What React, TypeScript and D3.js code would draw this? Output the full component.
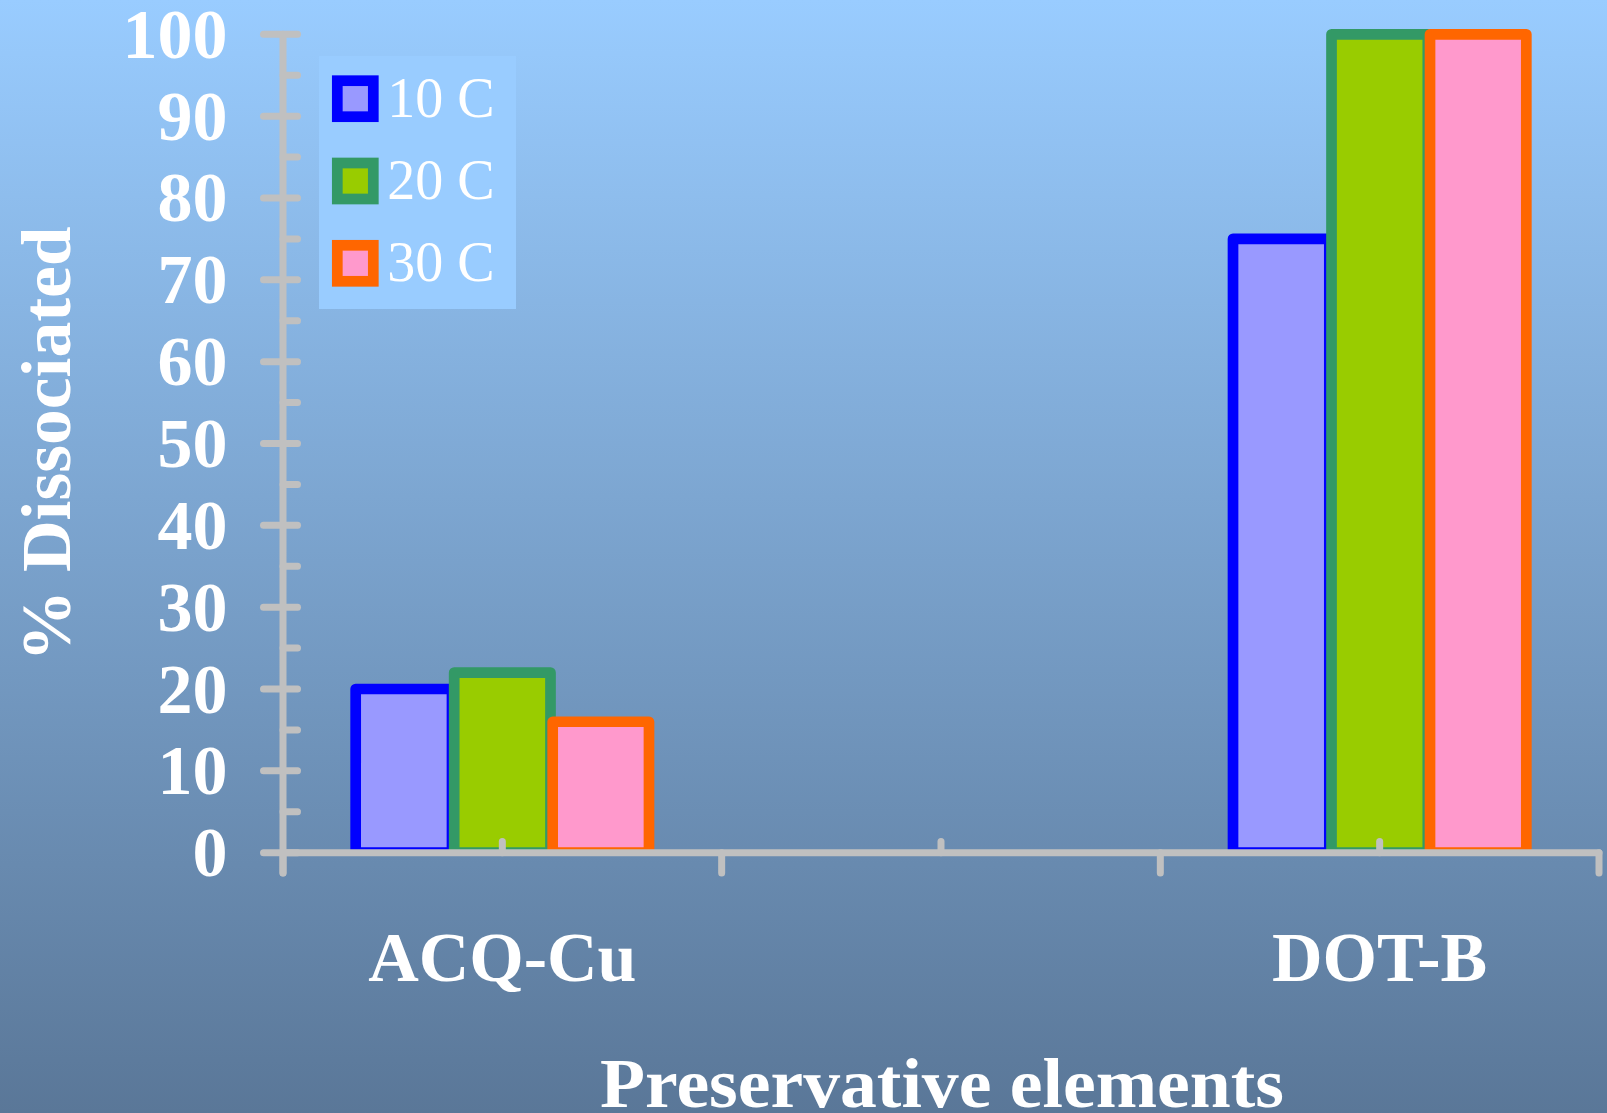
import React from "react";
import * as d3 from "d3";

const categories = ["ACQ-Cu", "", "DOT-B"];
const seriesNames = ["10 C", "20 C", "30 C"];
const values10 = [20, null, 75];
const values20 = [22, null, 100];
const values30 = [16, null, 100];
const yTicks = [0, 10, 20, 30, 40, 50, 60, 70, 80, 90, 100];
const yMinorTicks = [5, 15, 25, 35, 45, 55, 65, 75, 85, 95];
const fills = ["#9999ff", "#99cc00", "#ff99cc"];
const strokes = ["#0000ff", "#339966", "#ff6600"];

const W = 1607;
const H = 1113;
const FONT = "'Liberation Serif', 'Times New Roman', serif";

export default function App() {
  const series = [values10, values20, values30];
  const x0 = d3.scaleBand<string>().domain(categories.map((c, i) => String(i))).range([283, 1599]).paddingInner(0).paddingOuter(0);
  const y = d3.scaleLinear().domain([0, 100]).range([852.7, 34.3]);
  const groupWidth = 295.5;
  const x1 = d3.scaleBand<string>().domain(seriesNames).range([0, groupWidth]).padding(0);
  const barW = 96.3;
  const sw = 10.7;
  const axisColor = "#c0c0c0";
  const axisW = 7;

  return (
    <svg width={W} height={H} style={{ position: "absolute", left: 0, top: 0 }} xmlns="http://www.w3.org/2000/svg">
      <defs>
        <linearGradient id="bg" x1="0" y1="0" x2="0" y2="1">
          <stop offset="0" stopColor="#99ccff" />
          <stop offset="1" stopColor="#5a7798" />
        </linearGradient>
        <clipPath id="plotClip">
          <rect x={0} y={0} width={W} height={y(0)} />
        </clipPath>
      </defs>
      <rect x={0} y={0} width={W} height={H} fill="url(#bg)" />

      {/* bars */}
      <g clipPath="url(#plotClip)">
        {categories.map((c, ci) => {
          const gx = (x0(String(ci)) as number) + (x0.bandwidth() - groupWidth) / 2;
          return series.map((s, si) => {
            const v = s[ci];
            if (v == null) return null;
            const cx = gx + (x1(seriesNames[si]) as number) + x1.bandwidth() / 2;
            return (
              <rect
                key={`${ci}-${si}`}
                x={cx - barW / 2}
                y={y(v)}
                width={barW}
                height={y(0) - y(v)}
                fill={fills[si]}
                stroke={strokes[si]}
                strokeWidth={sw}
                strokeLinejoin="round"
              />
            );
          });
        })}
      </g>

      {/* y axis */}
      <g stroke={axisColor} strokeWidth={axisW} strokeLinecap="round">
        <line x1={283} x2={283} y1={y(100)} y2={873} />
        {yTicks.map((t) => (
          <line key={`maj${t}`} x1={263.5} x2={297.5} y1={y(t)} y2={y(t)} />
        ))}
        {yMinorTicks.map((t) => (
          <line key={`min${t}`} x1={283} x2={297.5} y1={y(t)} y2={y(t)} />
        ))}
        {/* x axis */}
        <line x1={283} x2={1599} y1={y(0)} y2={y(0)} />
        {d3.range(categories.length + 1).map((i) => {
          const xx = i < categories.length ? (x0(String(i)) as number) : 1599;
          return <line key={`xd${i}`} x1={xx} x2={xx} y1={y(0)} y2={873} />;
        })}
        {categories.map((c, i) => {
          const xx = (x0(String(i)) as number) + x0.bandwidth() / 2;
          return <line key={`xu${i}`} x1={xx} x2={xx} y1={841.5} y2={y(0)} />;
        })}
      </g>

      {/* y tick labels */}
      <g fill="#ffffff" fontFamily={FONT} fontWeight="bold" fontSize={70} textAnchor="end">
        {yTicks.map((t) => (
          <text key={`yl${t}`} x={227.5} y={y(t) + 23.5}>
            {t}
          </text>
        ))}
      </g>

      {/* x category labels */}
      <g fill="#ffffff" fontFamily={FONT} fontWeight="bold" fontSize={70} textAnchor="middle">
        {categories.map((c, i) =>
          c ? (
            <text key={`xl${i}`} x={(x0(String(i)) as number) + x0.bandwidth() / 2} y={980.7}>
              {c}
            </text>
          ) : null
        )}
      </g>

      {/* axis titles */}
      <text
        x={0}
        y={0}
        transform="translate(70,444) rotate(-90)"
        fill="#ffffff"
        fontFamily={FONT}
        fontWeight="bold"
        fontSize={70}
        textAnchor="middle"
        textLength={435}
        lengthAdjust="spacingAndGlyphs"
      >
        % Dissociated
      </text>
      <text
        x={942}
        y={1107}
        fill="#ffffff"
        fontFamily={FONT}
        fontWeight="bold"
        fontSize={70}
        textAnchor="middle"
        textLength={684}
        lengthAdjust="spacingAndGlyphs"
      >
        Preservative elements
      </text>

      {/* legend */}
      <g>
        <rect x={319} y={56} width={197} height={253} fill="#99ccff" />
        {seriesNames.map((n, i) => {
          const cy = 98.7 + i * 82.3;
          return (
            <g key={`lg${i}`}>
              <rect
                x={337.3}
                y={cy - 18}
                width={36}
                height={36}
                fill={fills[i]}
                stroke={strokes[i]}
                strokeWidth={sw}
              />
              <text x={387.3} y={cy + 18} fill="#ffffff" fontFamily={FONT} fontSize={56}>
                {n}
              </text>
            </g>
          );
        })}
      </g>
    </svg>
  );
}
